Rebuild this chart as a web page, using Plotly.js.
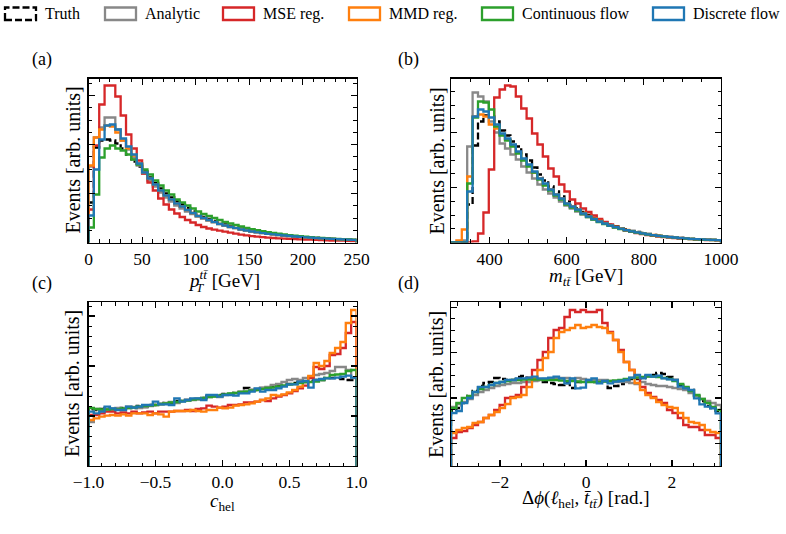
<!DOCTYPE html>
<html>
<head>
<meta charset="utf-8">
<script src="https://cdn.plot.ly/plotly-3.0.1.min.js"></script>
<style>
  html, body { margin: 0; padding: 0; background: #ffffff; }
  #chart { width: 786px; height: 534px; }
</style>
</head>
<body>
<div id="chart"></div>
<script>
// ---- series ----
const seriesNames  = ['Truth', 'Analytic', 'MSE reg.', 'MMD reg.', 'Continuous flow', 'Discrete flow'];
const seriesColors = ['#000000', '#888888', '#d62728', '#ff7f0e', '#2ca02c', '#1f77b4'];

// ---- binning: [low, high, number of bins] ----
const ptBins   = [0, 250, 50];
const mttBins  = [300, 1000, 50];
const chelBins = [-1, 1, 50];
const dphiBins = [-Math.PI, Math.PI, 50];

// ---- (a) pT of the ttbar system, events per bin (arb. units) ----
const ptTruth    = [40, 95, 102, 103, 102, 99, 94, 88, 81, 76, 71, 65, 59.5, 54, 49, 45, 41, 38, 34.5, 31, 28, 25.5, 23.5, 21.5, 19.5, 18, 16.5, 15, 13.8, 12.7, 11.6, 10.7, 9.8, 9.1, 8.4, 7.8, 7.2, 6.7, 6.2, 5.7, 5.3, 4.9, 4.6, 4.3, 4, 3.7, 3.4, 3.1, 2.9, 2.6];
const ptAnalytic = [76, 105, 115, 125, 125, 113, 102, 93, 85, 77, 69, 62, 56, 50, 45, 41, 37, 34, 31, 28.5, 26, 24, 22, 20.3, 18.7, 17.2, 15.9, 14.7, 13.5, 12.4, 11.4, 10.5, 9.7, 9, 8.3, 7.7, 7.1, 6.6, 6.1, 5.6, 5.2, 4.8, 4.4, 4.1, 3.8, 3.5, 3.2, 3, 2.8, 2.6];
const ptMSE      = [33, 97, 138, 157, 157, 146, 127, 108, 94, 82, 69, 60, 52, 44, 38, 33, 29, 25.5, 22.5, 20, 17.5, 15.5, 14, 12.8, 11.8, 10.8, 9.8, 8.8, 7.9, 7.1, 6.4, 5.8, 5.3, 4.9, 4.5, 4.2, 3.9, 3.6, 3.4, 3.2, 3, 2.8, 2.6, 2.4, 2.2, 2, 1.9, 1.8, 1.6, 1.5];
const ptMMD      = [77, 105, 113, 117, 116, 110, 102, 94, 87, 79, 70, 64, 58, 52, 47, 43, 39, 36, 32.5, 29.5, 26.5, 24.5, 22.5, 20.5, 18.5, 17, 15.5, 14.3, 13, 12, 11, 10.2, 9.4, 8.7, 8.1, 7.5, 7, 6.5, 6, 5.6, 5.2, 4.8, 4.5, 4.2, 3.9, 3.6, 3.3, 3.1, 2.9, 2.6];
const ptCFlow    = [15, 48, 85, 94, 97, 94, 92, 88, 83, 78, 73, 68, 62, 57, 52, 48, 43, 40, 37, 34, 31, 28.5, 26.5, 24.5, 22.5, 20.5, 19, 17.5, 16, 14.6, 13.4, 12.3, 11.3, 10.4, 9.6, 8.8, 8.1, 7.4, 6.8, 6.3, 5.8, 5.3, 4.9, 4.5, 4.1, 3.8, 3.5, 3.2, 3, 2.8];
const ptDFlow    = [27, 73, 103, 117, 118, 113, 104, 96, 88, 79, 70, 64, 58, 52, 47, 43, 39, 36, 32.5, 29.5, 26.5, 24.5, 22.5, 20.5, 18.5, 17, 15.5, 14.3, 13, 12, 11, 10.2, 9.4, 8.7, 8.1, 7.5, 7, 6.5, 6, 5.6, 5.2, 4.8, 4.5, 4.2, 3.9, 3.6, 3.3, 3.1, 2.9, 2.6];

// ---- (b) invariant mass of the ttbar system ----
const mttTruth    = [0, 0, 0, 38, 97, 121, 127, 126, 121, 112, 107, 101, 96, 88, 82, 75, 68, 62, 56, 51, 46, 41, 37.5, 34, 30.5, 27.5, 24.5, 22, 19.8, 17.8, 16, 14.4, 13, 11.7, 10.5, 9.5, 8.5, 7.7, 6.9, 6.2, 5.6, 5, 4.5, 4.1, 3.7, 3.4, 3.1, 2.8, 2.6, 2.4];
const mttAnalytic = [0, 0, 2, 96, 150, 146, 141, 121, 110, 99, 94, 88, 83, 76, 70, 64, 58, 53, 49, 45, 41, 37, 34, 31, 28, 25.5, 23, 21, 19, 17, 15.3, 13.8, 12.4, 11.2, 10.1, 9.1, 8.2, 7.4, 6.7, 6.1, 5.5, 5, 4.5, 4.1, 3.7, 3.4, 3.1, 2.8, 2.6, 2.4];
const mttMSE      = [0, 0, 0, 0, 1, 9, 30, 73, 145, 153, 157, 156, 146, 134, 124, 109, 98, 86, 74, 66, 58, 51, 43, 39, 34, 30.5, 27, 23.5, 20.5, 18, 15.5, 13.6, 12, 10.6, 9.4, 8.4, 7.5, 6.7, 6, 5.4, 4.9, 4.4, 4, 3.6, 3.3, 3, 2.7, 2.5, 2.3, 2.1];
const mttMMD      = [0, 2, 13, 66, 126, 128, 126, 118, 114, 108, 103, 97, 90, 83, 77, 70, 64, 58, 53, 48, 44, 39, 36, 33, 29.5, 26.5, 24, 21.5, 19.3, 17.3, 15.5, 14, 12.6, 11.3, 10.2, 9.2, 8.3, 7.5, 6.8, 6.1, 5.5, 5, 4.5, 4.1, 3.7, 3.4, 3.1, 2.8, 2.6, 2.4];
const mttCFlow    = [0, 0, 0, 59, 125, 141, 140, 133, 116, 107, 102, 96, 89, 82, 76, 70, 63, 57, 52, 47, 43, 38, 35, 32, 28.5, 25.5, 23, 20.5, 18.5, 16.7, 15, 13.5, 12.2, 11, 9.9, 8.9, 8, 7.2, 6.5, 5.9, 5.3, 4.8, 4.3, 3.9, 3.5, 3.2, 2.9, 2.7, 2.5, 2.3];
const mttDFlow    = [0, 0, 0, 51, 126, 133, 131, 125, 118, 109, 104, 98, 91, 84, 78, 71, 64, 59, 53, 48, 44, 39, 36, 33, 29, 26, 23.5, 21, 19, 17, 15.3, 13.8, 12.4, 11.2, 10.1, 9.1, 8.2, 7.4, 6.7, 6.1, 5.5, 5, 4.5, 4.1, 3.7, 3.4, 3.1, 2.8, 2.6, 2.4];

// ---- (c) helicity angle c_hel ----
const chelTruth    = [57, 56, 57, 58, 57, 57, 58, 59, 58, 60, 59, 61, 61, 62, 63, 63, 65, 65, 66, 67, 67, 68, 70, 70, 71, 72, 72, 73, 74, 78, 76, 76, 78, 78, 79, 80, 81, 82, 83, 84, 84, 85, 86, 86, 88, 88, 88, 87, 86, 86];
const chelAnalytic = [44, 57, 56, 57, 56, 58, 57, 58, 59, 58, 59, 60, 61, 62, 63, 64, 63, 65, 66, 66, 67, 68, 69, 70, 69, 71, 72, 73, 74, 74, 76, 77, 78, 79, 81, 82, 84, 86, 87, 86, 88, 89, 91, 92, 93, 95, 99, 99, 96, 88];
const chelMSE      = [51, 51, 52.7, 54.3, 54.3, 52.7, 53.7, 52.7, 54.3, 52.7, 53.7, 54.3, 52.7, 54.3, 54.3, 54.3, 55, 55, 56, 55, 57, 57.7, 60.3, 59.3, 58.3, 59.3, 61, 61, 61.7, 63.7, 63.7, 64.3, 66, 65, 67.7, 69.3, 71, 72.7, 75, 77.7, 80.3, 88, 99, 97, 100, 111, 112, 118, 133, 144];
const chelMMD      = [46, 47.7, 49.3, 50.3, 51, 50.3, 51.7, 50.3, 52.7, 52.7, 52.7, 51, 52.7, 51.7, 49.3, 54.3, 55, 55, 55, 56, 55, 54.3, 56, 56, 58.3, 57.7, 58.3, 60.3, 61, 61.7, 62.7, 64.3, 66, 67.7, 71, 70.3, 71.7, 73.7, 76, 79.3, 84.3, 90, 103, 100, 105, 113, 118, 124, 143, 156];
const chelCFlow    = [58, 57, 56.5, 56.5, 57, 56.5, 57.5, 58, 58.5, 59.5, 60, 60.5, 61, 62, 62.5, 63.5, 64, 65, 65.5, 66.5, 67, 68, 69, 69.5, 70.5, 71.5, 72.5, 73, 74, 74.5, 75.5, 76, 77, 78, 78.5, 79.5, 80.5, 81.5, 82, 83, 84, 84, 84.5, 86, 88, 91, 91.5, 92, 95, 96];
const chelDFlow    = [54.3, 52.7, 54.3, 59.3, 57.7, 56, 56, 59.3, 58.3, 59.3, 61, 61, 64.3, 61.7, 61.7, 61, 67.7, 64.3, 66, 67.7, 67.7, 66, 71, 71, 69.3, 71, 71, 70.3, 72.7, 72.7, 74.3, 77.7, 74.3, 76, 76, 77.7, 79.3, 81.7, 81.7, 84.3, 85, 78.3, 86, 87, 87.7, 87.7, 88.3, 89.3, 90.3, 88.3];

// ---- (d) azimuthal difference between helicity lepton and anti-top ----
const dphiTruth    = [55, 58, 63, 70, 75, 80, 83, 84, 88, 87, 86, 86, 89, 90, 88, 87, 86, 84, 83, 82, 81, 83, 78, 84, 84, 85, 84, 85, 85, 78, 80, 82, 85, 87, 87, 88, 90, 91, 93, 92, 89, 86, 81, 78, 76, 70, 65, 60, 58, 55];
const dphiAnalytic = [59, 62, 64, 67, 71, 74, 76, 78, 80, 81, 82, 83, 83, 84, 84, 85, 86, 87, 87, 88, 88, 88, 87, 88, 87, 86, 86, 86, 86, 85, 84, 84, 84, 83, 82, 84, 82, 81, 80, 80, 79, 78, 77, 76, 73, 70, 67, 65, 63, 61];
const dphiMSE      = [28, 34, 35, 38, 41, 44, 48, 51, 56, 61, 68, 69, 71, 79, 88, 96, 106, 114, 128, 136, 138, 149, 156, 154, 156, 154, 154, 156, 143, 134, 126, 116, 104, 96, 88, 79, 73, 69, 66, 63, 56, 53, 48, 41, 39, 39, 36, 31, 31, 28];
const dphiMMD      = [33, 36, 38, 39, 43, 44, 48, 51, 54, 58, 62, 68, 69, 71, 79, 88, 96, 108, 114, 128, 134, 136, 138, 141, 138, 139, 141, 139, 138, 133, 126, 114, 104, 96, 83, 76, 71, 68, 64, 61, 59, 58, 53, 48, 44, 43, 41, 36, 34, 33];
const dphiCFlow    = [58, 63, 68, 70, 74, 77, 79, 81, 83, 84, 85, 86, 86, 86.5, 86.5, 86.5, 86.5, 86, 86, 86, 85.5, 85, 85, 84.5, 84, 84, 84, 84, 84.5, 85, 85.5, 86, 87, 88, 88.5, 89, 89.5, 89.5, 89, 88, 87, 85, 82, 79, 75, 71, 67, 63, 59, 56];
const dphiDFlow    = [53, 55, 63, 68, 74, 79, 79, 81, 83, 84, 86, 86, 87.7, 87.7, 88.3, 89.3, 87.7, 87.7, 88.3, 89.3, 87.7, 82.7, 87.7, 77.7, 78.3, 86, 87.7, 82.7, 85, 82.7, 84.3, 85, 86, 88.3, 91, 87.7, 91, 89.3, 90.3, 87.7, 86.7, 86, 79.3, 77.7, 76, 67.7, 61.7, 59.3, 57.7, 52.7];

const panels = [
  { bins: ptBins,   series: [ptTruth, ptAnalytic, ptMSE, ptMMD, ptCFlow, ptDFlow] },
  { bins: mttBins,  series: [mttTruth, mttAnalytic, mttMSE, mttMMD, mttCFlow, mttDFlow] },
  { bins: chelBins, series: [chelTruth, chelAnalytic, chelMSE, chelMMD, chelCFlow, chelDFlow] },
  { bins: dphiBins, series: [dphiTruth, dphiAnalytic, dphiMSE, dphiMMD, dphiCFlow, dphiDFlow] }
];

// ---- figure geometry (pixels) ----
const W = 786, H = 534;
const px = v => v / W;
const py = v => 1 - v / H;
const colX = [[88.5, 356.5], [451, 721]];
const rowY = [[78.5, 242.5], [302, 466]];
const SERIF = '"Liberation Serif", "Times New Roman", serif';

function binEdges(b) {
  const [lo, hi, n] = b;
  const e = [];
  for (let i = 0; i <= n; i++) e.push(lo + (hi - lo) * i / n);
  return e;
}

// outline of a histogram drawn as an unfilled step line, closed down to zero
function stepTrace(edges, vals, color, dashed, idx) {
  const x = [edges[0]], y = [0];
  for (let i = 0; i < vals.length; i++) { x.push(edges[i]); y.push(vals[i]); }
  x.push(edges[vals.length]); y.push(vals[vals.length - 1]);
  x.push(edges[vals.length]); y.push(0);
  const s = idx === 0 ? '' : String(idx + 1);
  return {
    type: 'scatter', mode: 'lines', x: x, y: y,
    xaxis: 'x' + s, yaxis: 'y' + s,
    line: { shape: 'hv', color: color, width: 2.3, dash: dashed ? '7px,3px' : 'solid' },
    hoverinfo: 'skip', showlegend: false
  };
}

const traces = [];
panels.forEach((p, k) => {
  const edges = binEdges(p.bins);
  p.series.forEach((vals, j) => traces.push(stepTrace(edges, vals, seriesColors[j], j === 0, k)));
});

function baseAxis() {
  return {
    showline: true, linecolor: '#000', linewidth: 1.3, mirror: 'ticks',
    ticks: 'inside', ticklen: 6, tickwidth: 1.2, tickcolor: '#000',
    showgrid: false, zeroline: false,
    tickfont: { family: SERIF, size: 17.5, color: '#000' }
  };
}

function xAx(col, row, idx, range, dtick, tick0, minorDtick, fmt) {
  const a = baseAxis();
  Object.assign(a, {
    domain: [px(colX[col][0]), px(colX[col][1])],
    anchor: 'y' + (idx ? idx + 1 : ''),
    range: range, tickmode: 'linear', dtick: dtick, tick0: tick0,
    minor: { ticks: 'inside', ticklen: 3.5, tickwidth: 1, tickcolor: '#000', dtick: minorDtick, tick0: tick0, showgrid: false }
  });
  if (fmt) a.tickformat = fmt;
  return a;
}

function yAx(col, row, idx, dtick, tick0) {
  const a = baseAxis();
  Object.assign(a, {
    domain: [py(rowY[row][1]), py(rowY[row][0])],
    anchor: 'x' + (idx ? idx + 1 : ''),
    range: [0, 164], tickmode: 'linear', dtick: dtick, tick0: tick0,
    showticklabels: false,
    minor: { ticks: 'inside', ticklen: 3.5, tickwidth: 1, tickcolor: '#000', dtick: dtick / (idx === 2 ? 5 : 4), tick0: tick0, showgrid: false }
  });
  return a;
}

const annotations = [];
const shapes = [];
function text(x, y, t, size, opts) {
  annotations.push(Object.assign({
    xref: 'paper', yref: 'paper', x: px(x), y: py(y), text: t, showarrow: false,
    xanchor: 'center', yanchor: 'middle',
    font: { family: SERIF, size: size, color: '#000' }
  }, opts || {}));
}

// panel tags
text(42, 59, '(a)', 18); text(408, 59, '(b)', 18);
text(42, 283, '(c)', 18); text(408, 283, '(d)', 18);

// y titles
const yTitle = 'Events [arb. units]';
text(72, 160.5, yTitle, 20, { textangle: -90 });
text(436, 160.5, yTitle, 20, { textangle: -90 });
text(72, 384, yTitle, 20, { textangle: -90 });
text(436, 384, yTitle, 20, { textangle: -90 });

// x titles
const tt = '<i>tt\u0304</i>';
// p_T^{tt}: superscript and subscript stacked on the same "p"
text(224, 279, '<i>p</i><sup>' + tt + '</sup> [GeV]', 19);
text(200, 287.5, '<i>T</i>', 13);
text(586, 277, '<i>m</i><sub>' + tt + '</sub> [GeV]', 19);
text(222, 502, '<i>c</i><sub>hel</sub>', 19);
text(585, 499, '\u0394<i>\u03d5</i>(<i>\u2113</i><sub>hel</sub>, <i>t\u0304</i><sub>' + tt + '</sub>) [rad.]', 19);

// legend row
const legendSwatchX = [5, 105, 223, 349, 482, 653];
seriesNames.forEach((name, j) => {
  const x0 = legendSwatchX[j];
  shapes.push({
    type: 'rect', xref: 'paper', yref: 'paper',
    x0: px(x0), x1: px(x0 + 31), y0: py(20), y1: py(7.5),
    line: { color: seriesColors[j], width: 2.3, dash: j === 0 ? '7px,3px' : 'solid' },
    fillcolor: 'rgba(0,0,0,0)'
  });
  text(x0 + 38, 14, name, 16, { xanchor: 'left' });
});

const layout = {
  width: W, height: H,
  margin: { l: 0, r: 0, t: 0, b: 0, pad: 0 },
  paper_bgcolor: '#ffffff', plot_bgcolor: '#ffffff',
  showlegend: false,
  font: { family: SERIF, size: 17, color: '#000' },
  xaxis:  xAx(0, 0, 0, [0, 250], 50, 0, 10),
  yaxis:  yAx(0, 0, 0, 49, 0),
  xaxis2: xAx(1, 0, 1, [300, 1000], 200, 0, 50),
  yaxis2: yAx(1, 0, 1, 55, 0),
  xaxis3: xAx(0, 1, 2, [-1, 1], 0.5, -1, 0.1, '.1f'),
  yaxis3: yAx(0, 1, 2, 50, 0),
  xaxis4: xAx(1, 1, 3, [-Math.PI, Math.PI], 2, 0, 0.5),
  yaxis4: yAx(1, 1, 3, 45.3, 22.7),
  annotations: annotations,
  shapes: shapes
};

Plotly.newPlot('chart', traces, layout, { staticPlot: true, displayModeBar: false });
</script>
</body>
</html>
